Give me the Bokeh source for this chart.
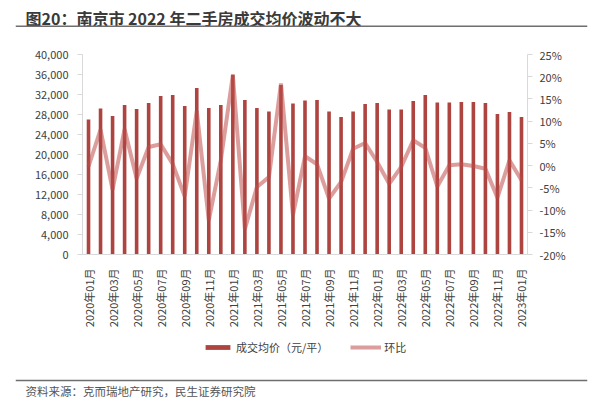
from math import pi
from bokeh.plotting import figure
from bokeh.layouts import column
from bokeh.models import (Range1d, LinearAxis, FixedTicker, NumeralTickFormatter,
                          PrintfTickFormatter, Legend, LegendItem, Label, Span)
from bokeh.embed import file_html
from bokeh.resources import INLINE

months = ["2020年01月", "2020年02月", "2020年03月", "2020年04月", "2020年05月", "2020年06月",
          "2020年07月", "2020年08月", "2020年09月", "2020年10月", "2020年11月", "2020年12月",
          "2021年01月", "2021年02月", "2021年03月", "2021年04月", "2021年05月", "2021年06月",
          "2021年07月", "2021年08月", "2021年09月", "2021年10月", "2021年11月", "2021年12月",
          "2022年01月", "2022年02月", "2022年03月", "2022年04月", "2022年05月", "2022年06月",
          "2022年07月", "2022年08月", "2022年09月", "2022年10月", "2022年11月", "2022年12月",
          "2023年01月"]
prices = [27000, 29200, 27700, 29900, 29100, 30300, 31700, 31900, 29700, 33300, 29300, 29900,
          36000, 30900, 29300, 28600, 33900, 30200, 30800, 30900, 28600, 27500, 28600, 30100,
          30300, 29000, 29000, 30700, 31900, 30400, 30400, 30500, 30500, 30300, 28100, 28500,
          27500]
mom = [-0.2, 8.1, -5.4, 8.2, -2.9, 4.2, 4.8, 0.4, -6.9, 12.3, -12.3, 1.2, 20.3, -14.3, -4.8,
       -2.6, 18.5, -11.1, 2.1, 0.3, -7.4, -3.7, 3.8, 5.1, 0.8, -4.1, -0.3, 5.7, 4.0, -4.7, 0.1,
       0.3, -0.1, -0.7, -7.2, 1.2, -3.3]
left_ticks = [0, 4000, 8000, 12000, 16000, 20000, 24000, 28000, 32000, 36000, 40000]
right_ticks = [-20, -15, -10, -5, 0, 5, 10, 15, 20, 25]
title_text = "图20：南京市 2022 年二手房成交均价波动不大"
source_text = "资料来源：克而瑞地产研究，民生证券研究院"
bar_name = "成交均价（元/平）"
line_name = "环比"

FONT = "Noto Sans CJK SC"
BAR = "#AE4440"
LINE = "#BE4E4B"
TXT = "#404040"
AX = "#D9D9D9"
RULE = "#6E6E6E"

W = 600
xs = [i + 0.5 for i in range(len(months))]
NAN = float("nan")


def bare(fig):
    fig.outline_line_color = None
    fig.xaxis.visible = False
    fig.yaxis.visible = False
    fig.xgrid.visible = False
    fig.ygrid.visible = False
    return fig


# ---------- header ----------
HEAD_H = 30
head = bare(figure(width=W, height=HEAD_H, x_range=Range1d(15, 587), y_range=Range1d(HEAD_H, 0),
                   min_border_left=15, min_border_right=13, min_border_top=0, min_border_bottom=0,
                   output_backend="svg", toolbar_location=None))
head.frame_align = False
head.add_layout(Label(x=25, y=17, text=title_text, text_font=FONT, text_font_size="16px",
                      text_font_style="bold", text_color="#3A3A3A", text_baseline="middle"))
head.add_layout(Span(location=25.8, dimension="width", line_color=RULE, line_width=1.5))

# ---------- main chart ----------
MAIN_H = 305
p = figure(width=W, height=MAIN_H, x_range=Range1d(0, len(months)), y_range=Range1d(0, 40000),
           min_border_left=82, min_border_right=73, min_border_top=24, min_border_bottom=81,
           output_backend="svg", toolbar_location=None)
p.frame_align = False
p.outline_line_color = None
p.xgrid.visible = False
p.ygrid.visible = False

bars = p.vbar(x=xs, top=prices, width=0.3, fill_color=BAR, line_color=None)
p.extra_y_ranges = {"pct": Range1d(-20, 25)}
ln = p.line(x=xs, y=mom, y_range_name="pct", line_width=4, line_color=LINE, line_alpha=0.55)

xa = p.xaxis[0]
xa.ticker = FixedTicker(ticks=xs[::2])
xa.major_label_overrides = {xs[i]: months[i] for i in range(0, len(months), 2)}
xa.major_label_orientation = pi / 2
xa.major_tick_line_color = None
xa.minor_tick_line_color = None
xa.axis_line_color = AX
xa.major_label_text_font = FONT
xa.major_label_text_font_size = "11px"
xa.major_label_text_color = TXT
xa.major_label_standoff = 8

ya = p.yaxis[0]
ya.ticker = FixedTicker(ticks=left_ticks)
ya.formatter = NumeralTickFormatter(format="0,0")
ya.axis_line_color = AX
ya.major_tick_line_color = AX
ya.major_tick_out = 5
ya.major_tick_in = 0
ya.minor_tick_line_color = None
ya.major_label_text_font = FONT
ya.major_label_text_font_size = "11px"
ya.major_label_text_color = TXT
ya.major_label_standoff = 9

ra = LinearAxis(y_range_name="pct", ticker=FixedTicker(ticks=right_ticks),
                formatter=PrintfTickFormatter(format="%d%%"))
ra.axis_line_color = AX
ra.major_tick_line_color = AX
ra.major_tick_out = 5
ra.major_tick_in = 0
ra.minor_tick_line_color = None
ra.major_label_text_font = FONT
ra.major_label_text_font_size = "11px"
ra.major_label_text_color = TXT
ra.major_label_standoff = 7
p.add_layout(ra, "right")

# ---------- footer (legend + source) ----------
FOOT_TOP = HEAD_H + MAIN_H
FOOT_H = 404 - FOOT_TOP
foot = bare(figure(width=W, height=FOOT_H, x_range=Range1d(15, 587), y_range=Range1d(404, FOOT_TOP),
                   min_border_left=15, min_border_right=13, min_border_top=0, min_border_bottom=0,
                   output_backend="svg", toolbar_location=None))
foot.frame_align = False
# legend keys (no visible data marks)
kb = foot.vbar(x=[NAN], top=[NAN], width=0.3, fill_color=BAR, line_color=None)
kl = foot.line(x=[NAN, NAN], y=[NAN, NAN], line_width=4, line_color=LINE, line_alpha=0.55)
legend = Legend(items=[LegendItem(label=bar_name, renderers=[kb]),
                       LegendItem(label=line_name, renderers=[kl])],
                orientation="horizontal", location=(187, 49),
                glyph_width=31, glyph_height=6, label_height=12, label_standoff=3,
                spacing=22, padding=0, margin=0, border_line_color=None,
                background_fill_alpha=0, label_text_font=FONT,
                label_text_font_size="11px", label_text_color=TXT)
foot.add_layout(legend, "center")
foot.add_layout(Span(location=380, dimension="width", line_color=RULE, line_width=1.5))
foot.add_layout(Label(x=25, y=390, text=source_text, text_font=FONT, text_font_size="11.5px",
                      text_color="#555555", text_baseline="middle"))

layout = column(head, p, foot, spacing=0)
open("out.html", "w").write(file_html(layout, INLINE))
